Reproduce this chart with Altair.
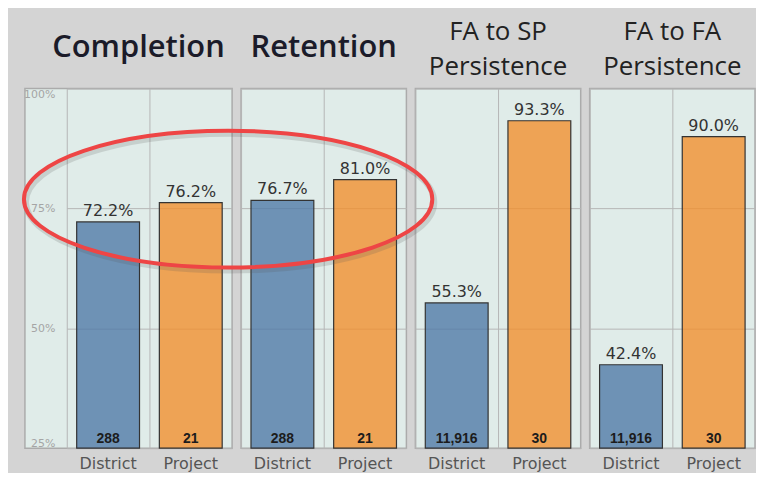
import altair as alt
import pandas as pd

measures = ["Completion", "Retention", "FA to SP Persistence", "FA to FA Persistence"]
titles = [["Completion"], ["Retention"], ["FA to SP", "Persistence"], ["FA to FA", "Persistence"]]
groups = ["District", "Project"]
rates = {
    "Completion": [72.2, 76.2],
    "Retention": [76.7, 81.0],
    "FA to SP Persistence": [55.3, 93.3],
    "FA to FA Persistence": [42.4, 90.0],
}
counts = {
    "Completion": [288, 21],
    "Retention": [288, 21],
    "FA to SP Persistence": [11916, 30],
    "FA to FA Persistence": [11916, 30],
}

rows = []
for m in measures:
    for g, r, c in zip(groups, rates[m], counts[m]):
        rows.append({"measure": m, "group": g, "rate": r, "count": c,
                     "pct": f"{r:.1f}%", "n": f"{c:,}"})
df = pd.DataFrame(rows)

BLUE = "#4e79a7"
ORANGE = "#f28e2b"
LABEL_FONT = "DejaVu Sans"
TITLE_FONT = "Open Sans"
H = 361
WIDTHS = [208, 166, 166, 166]
ELLIPSE = "M -1 0 A 1 0.335 0 1 0 1 0 A 1 0.335 0 1 0 -1 0 Z"


def panel(i, m):
    d = df[df["measure"] == m]
    first = i == 0
    w = WIDTHS[i]
    xscale = alt.Scale(domain=groups, paddingInner=0, paddingOuter=0,
                       range=[42, w] if first else [0, w])
    x = alt.X("group:N", sort=groups, scale=xscale,
              axis=alt.Axis(title=None, labelAngle=0, bandPosition=0, grid=True,
                            gridColor="#b5b5b5", gridWidth=1, ticks=False, domain=False,
                            labelFont=LABEL_FONT, labelFontSize=16, labelColor="#555555",
                            labelPadding=7))
    if first:
        yaxis = alt.Axis(title=None, values=[25, 50, 75, 100], grid=True, gridColor="#b5b5b5",
                         ticks=False, tickSize=0, domain=False, labelAlign="right",
                         labelPadding=-30, labelFlush=True, labelFont=LABEL_FONT,
                         labelFontSize=11, labelColor="#a5a5a5",
                         labelExpr="datum.value + '%'")
    else:
        yaxis = alt.Axis(title=None, values=[25, 50, 75, 100], grid=True, gridColor="#b5b5b5",
                         ticks=False, tickSize=0, domain=False, labels=False)
    y = alt.Y("rate:Q", scale=alt.Scale(domain=[25, 100], nice=False, zero=False), axis=yaxis)

    base = alt.Chart(d)
    bars = base.mark_bar(width=alt.RelativeBandSize(0.76), fillOpacity=0.78,
                         stroke="#333333", strokeWidth=1.2).encode(
        x=x, y=y, y2=alt.datum(25),
        color=alt.Color("group:N", scale=alt.Scale(domain=groups, range=[BLUE, ORANGE]), legend=None),
    )
    pct = base.mark_text(font=LABEL_FONT, fontSize=16, color="#333333", baseline="bottom", dy=-3).encode(
        x=alt.X("group:N", sort=groups), y="rate:Q", text="pct:N")
    cnt = base.mark_text(font="Liberation Sans", fontWeight="bold", fontSize=14, color="#1c1c1c",
                         baseline="bottom", dy=-2).encode(
        x=alt.X("group:N", sort=groups), y=alt.datum(25), text="n:N")
    layers = [bars, pct, cnt]
    if i == 2:
        note = pd.DataFrame({"a": [1]})
        shadow = alt.Chart(note).mark_point(
            shape=ELLIPSE, filled=False, stroke="#555555", strokeWidth=6, opacity=0.18,
            size=410 * 410,
        ).encode(x=alt.value(-186), y=alt.value(114))
        ell = alt.Chart(note).mark_point(
            shape=ELLIPSE, filled=False, stroke="#ee4545", strokeWidth=4, opacity=1,
            size=410 * 410,
        ).encode(x=alt.value(-188), y=alt.value(111))
        layers += [shadow, ell]
    single = len(titles[i]) == 1
    t = alt.TitleParams(
        text=titles[i] if not single else titles[i][0],
        font=TITLE_FONT,
        fontSize=31 if single else 26,
        fontWeight=600 if single else 500,
        color="#1b1b29" if single else "#222222",
        anchor="middle",
        offset=25 if single else 9,
        lineHeight=35,
        dx=10 if first else 0,
    )
    return alt.layer(*layers).properties(width=w, height=H, title=t)


chart = alt.hconcat(*[panel(i, m) for i, m in enumerate(measures)], spacing=9,
                    bounds="flush").properties(
    background="#d4d4d4",
    padding={"left": 5, "top": 9, "right": 0, "bottom": 0},
).configure_view(
    fill="#e0ece9", stroke="#ababab", strokeWidth=1.5
).configure_scale(bandPaddingInner=0)

chart.save("out.html", embed_options={"renderer": "svg", "actions": False})
